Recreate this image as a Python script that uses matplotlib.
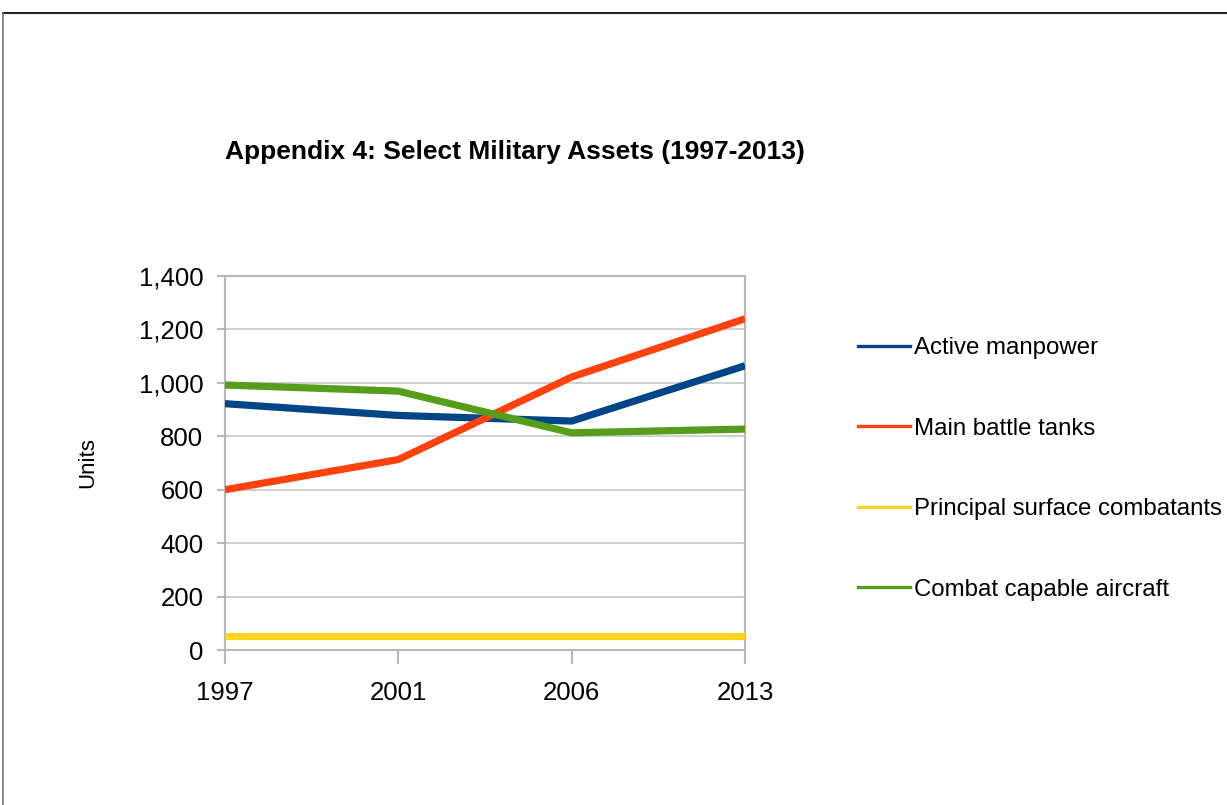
import matplotlib.pyplot as plt
from matplotlib.lines import Line2D

plt.rcParams['font.family'] = ['Liberation Sans', 'DejaVu Sans']

# data
years = ['1997', '2001', '2006', '2013']
active_manpower = [922, 878, 857, 1064]
main_battle_tanks = [600, 713, 1022, 1240]
surface_combatants = [52, 52, 52, 52]
combat_aircraft = [992, 969, 813, 827]

series_names = ['Active manpower', 'Main battle tanks',
                'Principal surface combatants', 'Combat capable aircraft']
series_colors = ['#004586', '#ff420e', '#ffd320', '#579d1c']
series_values = [active_manpower, main_battle_tanks, surface_combatants, combat_aircraft]

fig = plt.figure(figsize=(12.27, 8.05), dpi=100)
ax = fig.add_axes([225 / 1227, 1 - 650 / 805, 520 / 1227, 374 / 805])

x = range(len(years))
for vals, col in zip(series_values, series_colors):
    ax.plot(x, vals, color=col, lw=5.2, solid_capstyle='butt', zorder=3)

ax.set_xlim(0, len(years) - 1)
ax.set_ylim(0, 1400)
ax.set_yticks(range(0, 1401, 200))
ax.set_yticklabels([f'{v:,}' for v in range(0, 1401, 200)])
ax.set_xticks(list(x))
ax.set_xticklabels(years)

ax.grid(axis='y', color='#c8c8c8', lw=1.2)
ax.set_axisbelow(True)
for sp in ax.spines.values():
    sp.set_color('#b8b8b8')
    sp.set_linewidth(1.5)
ax.tick_params(axis='both', colors='#b8b8b8', labelcolor='black', labelsize=18.5, width=1.5)
ax.tick_params(axis='x', length=10, pad=12)
ax.tick_params(axis='y', length=6, pad=9.5)

ax.set_ylabel('Units', fontsize=16, labelpad=29)

fig.text(515 / 1227, 1 - 152 / 805, 'Appendix 4: Select Military Assets (1997-2013)',
         ha='center', va='center', fontsize=19, fontweight='bold')

handles = [Line2D([], [], color=c, lw=2.4) for c in series_colors]
leg = fig.legend(handles, series_names, loc='center left',
                 bbox_to_anchor=(836 / 1227, 1 - 469 / 805), frameon=False,
                 fontsize=17.3, handlelength=2.2, handletextpad=0.15, labelspacing=2.43)

# page border
fig.add_artist(Line2D([3 / 1227, 1], [1 - 13 / 805, 1 - 13 / 805], color='#222222', lw=1.5))
fig.add_artist(Line2D([3 / 1227, 3 / 1227], [0, 1 - 13 / 805], color='#777777', lw=1.2))

fig.savefig('out.png', dpi=100)
